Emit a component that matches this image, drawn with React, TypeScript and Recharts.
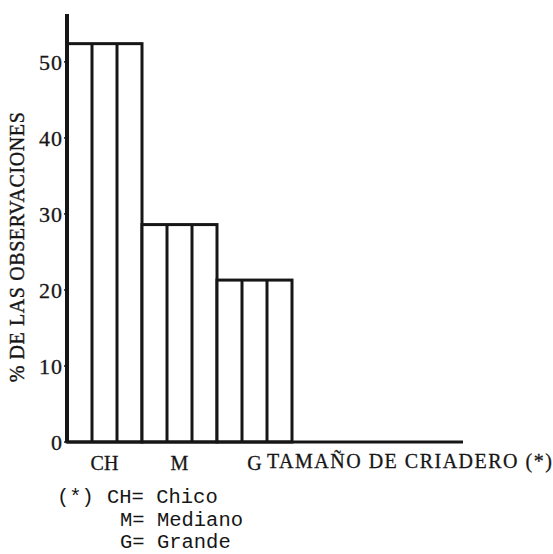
import React from 'react';
import { BarChart, Bar, XAxis, YAxis } from 'recharts';

// datos (porcentaje de observaciones por tamaño de criadero)
const categorias = ['CH', 'M', 'G'];
const porcentajes = [52.4, 28.6, 21.3];
const yTicks = [0, 10, 20, 30, 40, 50];
const codigos = ['CH', 'M', 'G'];
const nombres = ['Chico', 'Mediano', 'Grande'];

const INK = '#161616';
const SERIF = '"Liberation Serif", "Times New Roman", serif';
const MONO = '"Liberation Mono", "Courier New", monospace';

const chartData = categorias.map((cat, i) => ({ cat, valor: porcentajes[i] }));

// cada barra va dividida en tres columnas, como en el original
const TripleBar = (props: any) => {
  const { x, y, width, height } = props;
  const step = width / 3;
  return (
    <g>
      <rect x={x} y={y} width={width} height={height} fill="#fff" stroke={INK} strokeWidth={3} />
      <line x1={x + step} x2={x + step} y1={y} y2={y + height} stroke={INK} strokeWidth={3} />
      <line x1={x + 2 * step} x2={x + 2 * step} y1={y} y2={y + height} stroke={INK} strokeWidth={3} />
    </g>
  );
};

const YTitle = () => (
  <text
    x={17}
    y={247}
    transform="rotate(-90, 17, 247)"
    textAnchor="middle"
    dominantBaseline="central"
    fill={INK}
    stroke={INK}
    strokeWidth={0.4}
    fontFamily={SERIF}
    fontSize={20}
    letterSpacing={0.6}
  >
    % DE LAS OBSERVACIONES
  </text>
);

const XTitle = () => (
  <g>
    <text
      x={267}
      y={468}
      fill={INK}
      stroke={INK}
      strokeWidth={0.3}
      fontFamily={SERIF}
      fontSize={20}
      letterSpacing={1.5}
    >
      TAMAÑO DE CRIADERO (*)
    </text>
    <text x={57} y={503} fill={INK} fontFamily={MONO} fontSize={20.5}>
      (*)
    </text>
    {codigos.map((c, i) => (
      <text
        key={c}
        x={i === 0 ? 107 : 120}
        y={503 + i * 22.5}
        fill={INK}
        fontFamily={MONO}
        fontSize={20.5}
      >
        {`${c}= ${nombres[i]}`}
      </text>
    ))}
  </g>
);

export default function App() {
  return (
    <div style={{ position: 'absolute', left: 0, top: 0, width: 553, height: 554, background: '#fff' }}>
      <BarChart
        width={553}
        height={554}
        data={chartData}
        margin={{ top: 14, right: 90, left: 0, bottom: 82 }}
        barCategoryGap={0}
      >
        <XAxis
          dataKey="cat"
          interval={0}
          padding={{ left: 0, right: 171 }}
          axisLine={{ stroke: INK, strokeWidth: 3 }}
          tickLine={false}
          tickMargin={8}
          tick={{ fill: INK, stroke: INK, strokeWidth: 0.3, fontFamily: SERIF, fontSize: 20 }}
          height={30}
          label={{ content: XTitle }}
        />
        <YAxis
          width={67}
          domain={[0, 56.3]}
          ticks={yTicks}
          axisLine={{ stroke: INK, strokeWidth: 4 }}
          tickLine={{ stroke: INK, strokeWidth: 1.5 }}
          tickSize={3}
          tickMargin={1}
          tick={{ fill: INK, stroke: INK, strokeWidth: 0.3, fontFamily: SERIF, fontSize: 22, letterSpacing: 1 }}
          label={{ content: YTitle }}
        />
        <Bar dataKey="valor" shape={TripleBar} isAnimationActive={false} />
      </BarChart>
    </div>
  );
}
